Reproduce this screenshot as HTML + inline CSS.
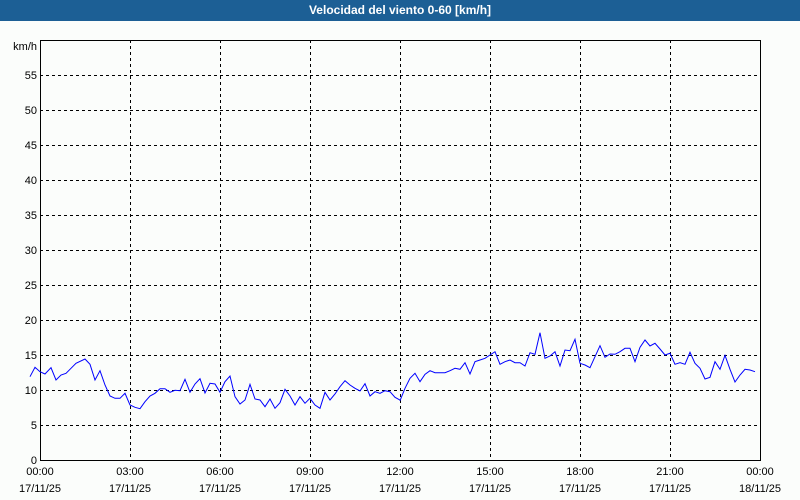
<!DOCTYPE html>
<html><head><meta charset="utf-8"><style>
html,body{margin:0;padding:0;width:800px;height:500px;overflow:hidden;background:#fbfdfb;font-family:"Liberation Sans",sans-serif;}
#t{position:absolute;left:0;top:0;width:800px;height:21px;background:#1c5f95;color:#fff;font-weight:bold;font-size:12px;text-align:center;line-height:21px;}
svg{position:absolute;left:0;top:0}
</style></head><body>
<div id="t">Velocidad del viento 0-60 [km/h]</div>
<svg id="s" width="800" height="500" font-family="Liberation Sans, sans-serif" font-size="11"></svg>
<script>
var s=document.getElementById('s'),h='';
for(var v=5;v<=55;v+=5){var y=460-v*7;h+='<line x1="40" x2="760" y1="'+(y+.5)+'" y2="'+(y+.5)+'" stroke="#000" stroke-dasharray="3,3"/>';}
for(var i=1;i<8;i++){var x=40+i*90;h+='<line y1="40" y2="460" x1="'+(x+.5)+'" x2="'+(x+.5)+'" stroke="#000" stroke-dasharray="3,3"/>';}
h+='<rect x="40.5" y="40.5" width="720" height="420" fill="none" stroke="#000"/>';
for(var v=0;v<=55;v+=5){h+='<text x="37" y="'+(460-v*7+4)+'" text-anchor="end">'+v+'</text>';}
h+='<text x="37" y="50" text-anchor="end">km/h</text>';
var T=['00:00','03:00','06:00','09:00','12:00','15:00','18:00','21:00','00:00'];
for(var i=0;i<9;i++){var x=40+i*90;h+='<text x="'+x+'" y="475" text-anchor="middle">'+T[i]+'</text><text x="'+x+'" y="492" text-anchor="middle">'+(i==8?'18/11/25':'17/11/25')+'</text>';}
var a=[0,170,15,142,30,155,45,162,63,143,78,180,93,165,108,160,123,145,138,130,165,117,180,133,195,180,210,152,225,195,240,228,255,235,270,235,285,220,300,255,315,262,330,266,345,245,360,228,375,220,390,206,405,206,420,217,435,211,450,212,465,178,480,217,495,192,510,176,525,219,540,190,555,192,570,217,585,185,600,168,615,230,630,252,645,240,660,193,675,237,690,240,705,260,720,237,735,265,750,248,765,208,780,228,795,255,810,230,825,250,840,235,855,255,870,265,885,217,900,240,915,222,930,200,945,182,960,195,975,205,990,213,1005,191,1020,228,1035,215,1050,220,1065,212,1080,215,1095,232,1110,240];
var b=[15,242,30,205,45,175,60,160,75,185,90,163,105,152,120,158,150,158,165,152,180,145,195,148,210,128,225,162,240,125,255,120,270,115,285,105,300,95,315,133,330,125,345,120,360,128,375,128,390,138,405,98,420,103,435,38,450,115,465,108,480,95,495,138,510,90,525,92,540,58,555,130,570,135,585,143,600,110,615,77,630,112,645,102,660,103,675,95,690,85,705,85,720,125,735,82,750,60,765,78,780,70,795,87,810,105,825,100,840,133,855,128,870,133,885,97,900,130,915,145,930,177,945,172,960,125,975,148,990,106,1005,148,1020,186,1035,165,1050,148,1065,150,1080,155];
var p=[];
for(var i=0;i<a.length;i+=2)p.push((30+a[i]/3).toFixed(1)+','+(320+a[i+1]/3).toFixed(1));
for(var i=0;i<b.length;i+=2)p.push((395+b[i]/3).toFixed(1)+','+(320+b[i+1]/3).toFixed(1));
h+='<polyline points="'+p.join(' ')+'" fill="none" stroke="#0000ff" stroke-width="1"/>';
s.innerHTML=h;
</script>
</body></html>
